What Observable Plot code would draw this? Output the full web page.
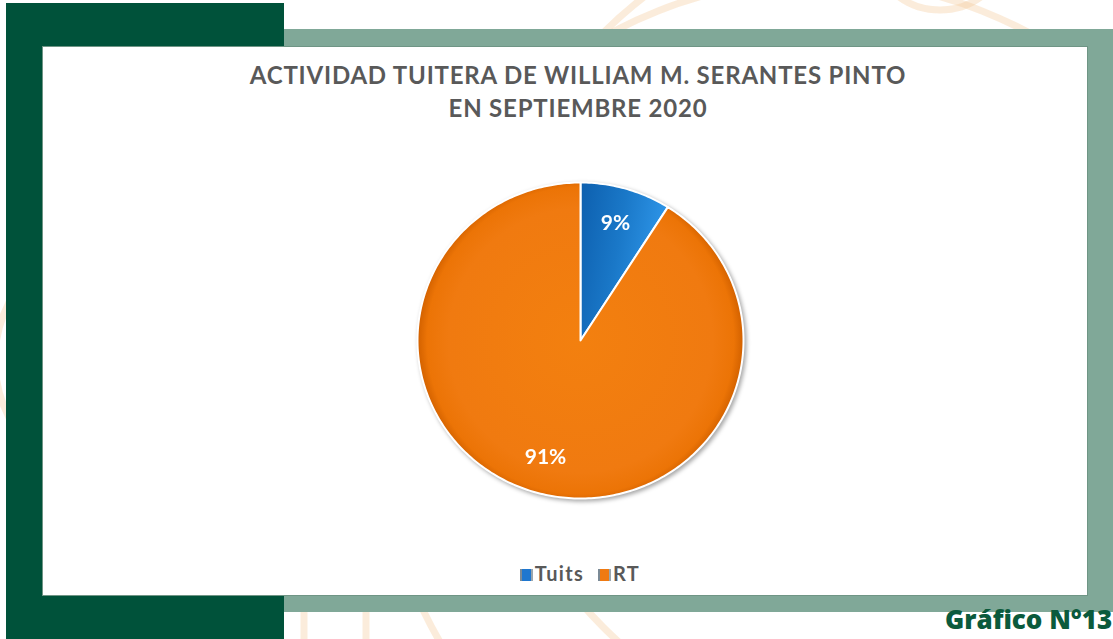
<!DOCTYPE html>
<html>
<head>
<meta charset="utf-8">
<script src="https://cdn.jsdelivr.net/npm/d3@7"></script>
<script src="https://cdn.jsdelivr.net/npm/@observablehq/plot@0.6"></script>
<style>
  html, body { margin: 0; padding: 0; background: #ffffff; }
  #page { position: relative; width: 1113px; height: 639px; overflow: hidden; background: #ffffff; font-family: "Lato", "Open Sans", sans-serif; }
  .abs { position: absolute; }
  #deco { position: absolute; left: 0; top: 0; }
  #darkbox { left: 6px; top: 3px; width: 278px; height: 636px; background: #00523A; }
  #lightbox { left: 284px; top: 29px; width: 829px; height: 583px; background: #80A898; }
  #whitebox { left: 43px; top: 47px; width: 1044px; height: 548px; background: #ffffff; box-shadow: 0 0 0 1px #6f9585; }
  #title { left: 43px; top: 58px; width: 1070px; text-align: center; color: #595959; font-weight: 700; font-size: 24px; letter-spacing: 0.8px; line-height: 33px; }
  #chart { left: 380px; top: 160px; }
  #chart svg { filter: drop-shadow(2px 2px 2px rgba(0,0,0,0.35)); }
  #legend { left: 43px; top: 561px; width: 1074px; text-align: center; color: #595959; font-weight: 700; font-size: 20px; letter-spacing: 1.3px; line-height: 24px; }
  .item { display: inline-block; margin: 0 7px; }
  .sw { display: inline-block; width: 13px; height: 12px; vertical-align: 0px; margin-right: 2px; border-left: 2px solid #7b8a96; border-right: 2px solid #9aa6ae; box-sizing: border-box; }
  #caption { left: 945px; top: 602px; white-space: nowrap; color: #0B5A3C; font-family: "Open Sans", sans-serif; font-weight: 800; font-size: 26px; line-height: 34px; }
</style>
</head>
<body>
<div id="page">
  <svg id="deco" width="1113" height="639">
    <g fill="none" stroke="#f3c999" stroke-opacity="0.35" stroke-width="7">
      <circle cx="900" cy="330" r="420"></circle>
      <circle cx="820" cy="420" r="440"></circle>
      <circle cx="940" cy="-60" r="70"></circle>
      <circle cx="120" cy="360" r="125"></circle>
      <line x1="304" y1="612" x2="304" y2="639"></line>
      <line x1="366" y1="612" x2="366" y2="639"></line>
    </g>
  </svg>
  <div id="darkbox" class="abs"></div>
  <div id="lightbox" class="abs"></div>
  <div id="whitebox" class="abs"></div>
  <div id="title" class="abs">ACTIVIDAD TUITERA DE WILLIAM M. SERANTES PINTO<br>EN SEPTIEMBRE 2020</div>
  <div id="chart" class="abs"></div>
  <div id="legend" class="abs"></div>
  <div id="caption" class="abs">Gráfico N°13</div>
</div>
<script>
// ---- data ----
const categories = ["Tuits", "RT"];
const values = [9, 91];
const labels = ["9%", "91%"];
const fills = ["url(#gBlue)", "url(#gOrange)"];

// ---- geometry from data ----
const arcs = d3.pie().sort(null).value(d => d)(values);
const slices = arcs.map((a, i) => {
  const n = Math.max(4, Math.ceil((a.endAngle - a.startAngle) / (Math.PI / 180)));
  const pts = [{x: 0, y: 0}];
  for (let k = 0; k <= n; k++) {
    const t = a.startAngle + (a.endAngle - a.startAngle) * k / n;
    pts.push({x: Math.sin(t), y: Math.cos(t)});
  }
  return {name: categories[i], pts};
});
const labelData = arcs.map((a, i) => {
  const m = (a.startAngle + a.endAngle) / 2;
  return {x: 0.77 * Math.sin(m), y: 0.77 * Math.cos(m), text: labels[i]};
});

const chart = Plot.plot({
  width: 400,
  height: 360,
  margin: 0,
  style: {background: "transparent", overflow: "visible"},
  x: {domain: [-1, 1], range: [37, 363], axis: null},
  y: {domain: [-1, 1], range: [338, 22], axis: null},
  marks: [
    ...slices.map((s, i) => Plot.line(s.pts, {
      x: "x", y: "y", fill: fills[i], stroke: "white", strokeWidth: 2,
      strokeLinejoin: "round", curve: "linear-closed"
    })),
    Plot.text(labelData, {
      x: "x", y: "y", text: "text", fill: "white",
      fontSize: 21, fontWeight: 700, fontFamily: "Lato, Open Sans, sans-serif"
    })
  ]
});

// gradients
const svg = d3.select(chart);
const defs = svg.insert("defs", ":first-child");
const go = defs.append("radialGradient").attr("id", "gOrange")
  .attr("gradientUnits", "userSpaceOnUse").attr("cx", 200).attr("cy", 180).attr("r", 165);
[[0, "#f3800f"], [0.8, "#f07a10"], [0.93, "#ec7406"], [0.98, "#d56300"], [1, "#b45300"]]
  .forEach(([o, c]) => go.append("stop").attr("offset", o).attr("stop-color", c));
const gb = defs.append("linearGradient").attr("id", "gBlue")
  .attr("x1", 0).attr("y1", 0).attr("x2", 1).attr("y2", 0.3);
[[0, "#0d5fae"], [0.5, "#1a78c8"], [1, "#2f97ea"]]
  .forEach(([o, c]) => gb.append("stop").attr("offset", o).attr("stop-color", c));

document.getElementById("chart").appendChild(chart);

// legend
const swatchColors = ["#1f77cf", "#ef7a12"];
const legend = document.getElementById("legend");
categories.forEach((c, i) => {
  const it = document.createElement("span");
  it.className = "item";
  const sw = document.createElement("span");
  sw.className = "sw";
  sw.style.background = swatchColors[i];
  it.appendChild(sw);
  it.appendChild(document.createTextNode(c));
  legend.appendChild(it);
});
</script>
</body>
</html>
